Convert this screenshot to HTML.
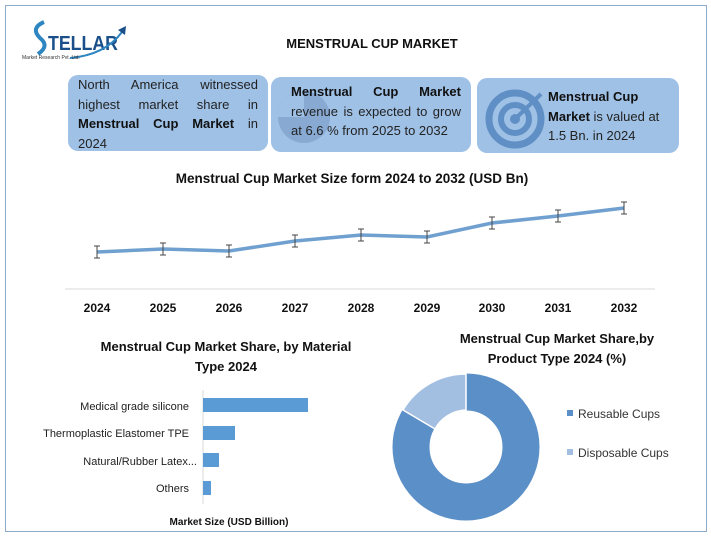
<!DOCTYPE html>
<html><head><meta charset="utf-8"><style>
body{margin:0;width:711px;height:536px;background:#fff;overflow:hidden;font-family:"Liberation Sans",sans-serif;}
.frame{position:absolute;left:5px;top:5px;width:700px;height:525px;border:1px solid #8eaacb;}
.box{position:absolute;background:#9fc1e6;border-radius:10px;font-size:13px;line-height:19.5px;color:#222;}
b{color:#111}
</style></head><body>
<div class="frame"></div>
<svg width="711" height="536" style="position:absolute;left:0;top:0" font-family="Liberation Sans, sans-serif">
<!-- logo -->
<path d="M44 22 Q30 28 40 38 Q50 46 38 54" stroke="#2e86c1" stroke-width="4" fill="none"/>
<text x="48" y="50" font-size="20" fill="#1a4f8a" font-weight="bold" textLength="70" lengthAdjust="spacingAndGlyphs">TELLAR</text>
<path d="M70 58 Q105 55 122 32" stroke="#2e86c1" stroke-width="2" fill="none"/>
<path d="M118 30 l8 -4 l-1 9 z" fill="#1a4f8a"/>
<text x="22" y="59" font-size="5" fill="#333">Market Research Pvt. Ltd.</text>
<text x="372" y="48" font-size="13" font-weight="bold" text-anchor="middle" fill="#111">MENSTRUAL CUP MARKET</text>
<!-- line chart -->
<text x="352" y="183" font-size="13.5" font-weight="bold" text-anchor="middle" fill="#111">Menstrual Cup Market Size form 2024 to 2032 (USD Bn)</text>
<line x1="65" y1="289" x2="655" y2="289" stroke="#d9d9d9"/>
<polyline points="97,252 163,249 229,251 295,241 361,235 427,237 492,223 558,216 624,208" fill="none" stroke="#6fa0cf" stroke-width="3.5"/>
<g stroke="#444" stroke-width="1">
<path d="M97 246v12M94 246h6M94 258h6M163 243v12M160 243h6M160 255h6M229 245v12M226 245h6M226 257h6M295 235v12M292 235h6M292 247h6M361 229v12M358 229h6M358 241h6M427 231v12M424 231h6M424 243h6M492 217v12M489 217h6M489 229h6M558 210v12M555 210h6M555 222h6M624 202v12M621 202h6M621 214h6"/>
</g>
<g font-size="12" font-weight="bold" fill="#111" text-anchor="middle">
<text x="97" y="312">2024</text><text x="163" y="312">2025</text><text x="229" y="312">2026</text><text x="295" y="312">2027</text><text x="361" y="312">2028</text><text x="427" y="312">2029</text><text x="492" y="312">2030</text><text x="558" y="312">2031</text><text x="624" y="312">2032</text>
</g>
<!-- bar chart -->
<g font-size="13" font-weight="bold" fill="#111" text-anchor="middle">
<text x="226" y="351">Menstrual Cup Market Share, by Material</text><text x="226" y="371">Type 2024</text>
<text x="557" y="343">Menstrual Cup Market Share,by</text><text x="557" y="363">Product Type 2024 (%)</text>
</g>
<line x1="203" y1="390" x2="203" y2="504" stroke="#d9d9d9"/>
<g fill="#5b9bd5"><rect x="203" y="398" width="105" height="14"/><rect x="203" y="426" width="32" height="14"/><rect x="203" y="453" width="16" height="14"/><rect x="203" y="481" width="8" height="14"/></g>
<g font-size="11" fill="#222" text-anchor="end">
<text x="189" y="410">Medical grade silicone</text><text x="189" y="437">Thermoplastic Elastomer TPE</text><text x="197" y="465">Natural/Rubber Latex...</text><text x="189" y="492">Others</text>
</g>
<text x="229" y="525" font-size="10" font-weight="bold" fill="#111" text-anchor="middle">Market Size (USD Billion)</text>
<!-- donut -->
<circle cx="466" cy="447" r="55" fill="none" stroke="#5b8fc7" stroke-width="37"/>
<path d="M466 374 A73 73 0 0 0 403 410 L435 429 A37 37 0 0 1 466 410 Z" fill="#a2bfe2" stroke="#fff" stroke-width="1.5"/>
<rect x="567" y="410" width="6" height="6" fill="#5b8fc7"/><text x="578" y="418" font-size="12" fill="#333">Reusable Cups</text>
<rect x="567" y="449" width="6" height="6" fill="#a2bfe2"/><text x="578" y="457" font-size="12" fill="#333">Disposable Cups</text>
</svg>
<div class="box" style="left:68px;top:75px;width:200px;height:76px;padding:0 10px;box-sizing:border-box;text-align:justify;">North America witnessed highest market share in <b>Menstrual Cup Market</b> in 2024</div>
<div class="box" style="left:271px;top:77px;width:200px;height:75px;padding:5px 10px 0 20px;box-sizing:border-box;text-align:justify;">
<svg style="position:absolute;left:3px;top:6px" width="66" height="66"><circle cx="30" cy="34" r="26" fill="#87a9d2"/><path d="M30 34 L30 8 A26 26 0 0 0 4 34Z" fill="#9fc1e6"/></svg>
<span style="position:relative"><b>Menstrual Cup Market</b> revenue is expected to grow at 6.6 % from 2025 to 2032</span></div>
<div class="box" style="left:477px;top:78px;width:202px;height:75px;">
<svg style="position:absolute;left:8px;top:6px" width="66" height="66"><circle cx="30" cy="35" r="26" fill="none" stroke="#5f8fc4" stroke-width="7"/><circle cx="30" cy="35" r="14" fill="none" stroke="#5f8fc4" stroke-width="6"/><circle cx="30" cy="35" r="5" fill="#5f8fc4"/><line x1="30" y1="35" x2="56" y2="10" stroke="#5f8fc4" stroke-width="4"/></svg>
<div style="position:absolute;left:71px;top:9px;width:125px;"><b>Menstrual Cup Market</b> is valued at 1.5 Bn. in 2024</div></div>
</body></html>
